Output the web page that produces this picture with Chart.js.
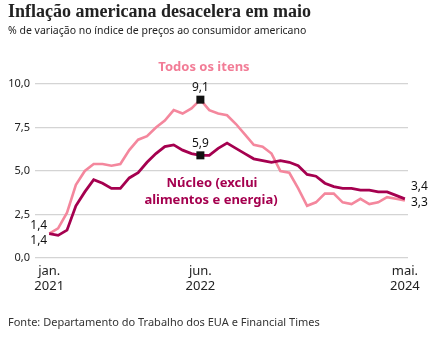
<!DOCTYPE html>
<html>
<head>
<meta charset="utf-8">
<script src="https://cdn.jsdelivr.net/npm/chart.js@4/dist/chart.umd.min.js"></script>
<style>
  body { margin: 0; background: #fff; }
  #wrap { position: relative; width: 436px; height: 338px; overflow: hidden; }
  #chart { position: absolute; left: 0; top: 0; }
  .title { position: absolute; left: 8px; top: 1px; font: bold 18px "Liberation Serif", serif; color: #222; white-space: nowrap; }
  .sub { position: absolute; left: 8px; top: 23px; font: 10.5px "Noto Sans", sans-serif; color: #222; white-space: nowrap; }
  .src { position: absolute; left: 8px; top: 314px; font: 11px "Noto Sans", sans-serif; color: #333; white-space: nowrap; }
</style>
</head>
<body>
<div id="wrap">
  <canvas id="chart" width="436" height="338"></canvas>
  <div class="title">Inflação americana desacelera em maio</div>
  <div class="sub">% de variação no índice de preços ao consumidor americano</div>
  <div class="src">Fonte: Departamento do Trabalho dos EUA e Financial Times</div>
</div>
<script>
// monthly series, jan. 2021 .. mai. 2024
const todosItens = [1.4, 1.7, 2.6, 4.2, 5.0, 5.4, 5.4, 5.3, 5.4, 6.2, 6.8, 7.0,
  7.5, 7.9, 8.5, 8.3, 8.6, 9.1, 8.5, 8.3, 8.2, 7.7, 7.1, 6.5,
  6.4, 6.0, 5.0, 4.9, 4.0, 3.0, 3.2, 3.7, 3.7, 3.2, 3.1, 3.4,
  3.1, 3.2, 3.5, 3.4, 3.3];
const nucleo = [1.4, 1.3, 1.6, 3.0, 3.8, 4.5, 4.3, 4.0, 4.0, 4.6, 4.9, 5.5,
  6.0, 6.4, 6.5, 6.2, 6.0, 5.9, 5.9, 6.3, 6.6, 6.3, 6.0, 5.7,
  5.6, 5.5, 5.6, 5.5, 5.3, 4.8, 4.7, 4.3, 4.1, 4.0, 4.0, 3.9,
  3.9, 3.8, 3.8, 3.6, 3.4];
const tickMonths = [0, 17, 40];
const tickLabels = [["jan.", "2021"], ["jun.", "2022"], ["mai.", "2024"]];
const yTicks = [0, 2.5, 5, 7.5, 10];
const peakMonth = 17;

const PINK = "#f4879d";
const WINE = "#a5004f";
const fmt = v => v.toFixed(1).replace(".", ",");

const toPoints = arr => arr.map((v, i) => ({ x: i, y: v }));

const notes = {
  id: "notes",
  afterDatasetsDraw(chart) {
    const { ctx, scales: { x, y } } = chart;
    const last = todosItens.length - 1;
    ctx.save();

    // series names
    ctx.textAlign = "center";
    ctx.textBaseline = "middle";
    ctx.font = "bold 13px 'Noto Sans', sans-serif";
    ctx.fillStyle = "#f27c96";
    ctx.fillText("Todos os itens", 204, 67);
    ctx.fillStyle = WINE;
    ctx.fillText("Núcleo (exclui", 212, 183);
    ctx.fillText("alimentos e energia)", 211, 200);

    // peak markers
    ctx.font = "12px 'Noto Sans', sans-serif";
    ctx.fillStyle = "#111";
    [todosItens[peakMonth], nucleo[peakMonth]].forEach(v => {
      const px = x.getPixelForValue(peakMonth);
      const py = y.getPixelForValue(v);
      ctx.fillRect(px - 4, py - 4, 8, 8);
      ctx.fillText(fmt(v), px, py - 12);
    });

    // first and last values
    const x0 = x.getPixelForValue(0);
    const y0 = y.getPixelForValue(todosItens[0]);
    ctx.textAlign = "right";
    ctx.fillText(fmt(todosItens[0]), x0 - 2, y0 - 8);
    ctx.fillText(fmt(nucleo[0]), x0 - 2, y0 + 7);

    const xe = x.getPixelForValue(last);
    ctx.textAlign = "left";
    ctx.fillText(fmt(nucleo[last]), xe + 6, y.getPixelForValue(nucleo[last]) - 12);
    ctx.fillText(fmt(todosItens[last]), xe + 6, y.getPixelForValue(todosItens[last]) + 2);
    ctx.restore();
  }
};

new Chart(document.getElementById("chart"), {
  type: "line",
  data: {
    datasets: [
      { data: toPoints(nucleo), borderColor: WINE, borderWidth: 2.8, pointRadius: 0, tension: 0, order: 1 },
      { data: toPoints(todosItens), borderColor: PINK, borderWidth: 2.6, pointRadius: 0, tension: 0, order: 2 },
    ],
  },
  options: {
    responsive: false,
    animation: false,
    layout: { padding: { top: 84, right: 28, bottom: 40, left: 0 } },
    plugins: { legend: { display: false }, tooltip: { enabled: false } },
    scales: {
      x: {
        type: "linear",
        min: -1.6,
        max: 40.35,
        afterBuildTicks: s => { s.ticks = tickMonths.map(v => ({ value: v })); },
        afterFit: s => { s.height = 40; },
        grid: { display: false, drawTicks: false },
        border: { display: false },
        ticks: {
          padding: 5,
          maxRotation: 0,
          autoSkip: false,
          color: "#222",
          font: { family: "'Noto Sans', sans-serif", size: 13, lineHeight: 1.22 },
          callback: v => tickLabels[tickMonths.indexOf(v)],
        },
      },
      y: {
        min: 0,
        max: 10,
        afterBuildTicks: s => { s.ticks = yTicks.map(v => ({ value: v })); },
        afterFit: s => { s.width = 35; },
        grid: { color: "#d4d4d4", lineWidth: 1.2, drawTicks: false },
        border: { display: false },
        ticks: {
          padding: 5,
          color: "#222",
          font: { family: "'Noto Sans', sans-serif", size: 11 },
          callback: v => fmt(v),
        },
      },
    },
  },
  plugins: [notes],
});
</script>
</body>
</html>
